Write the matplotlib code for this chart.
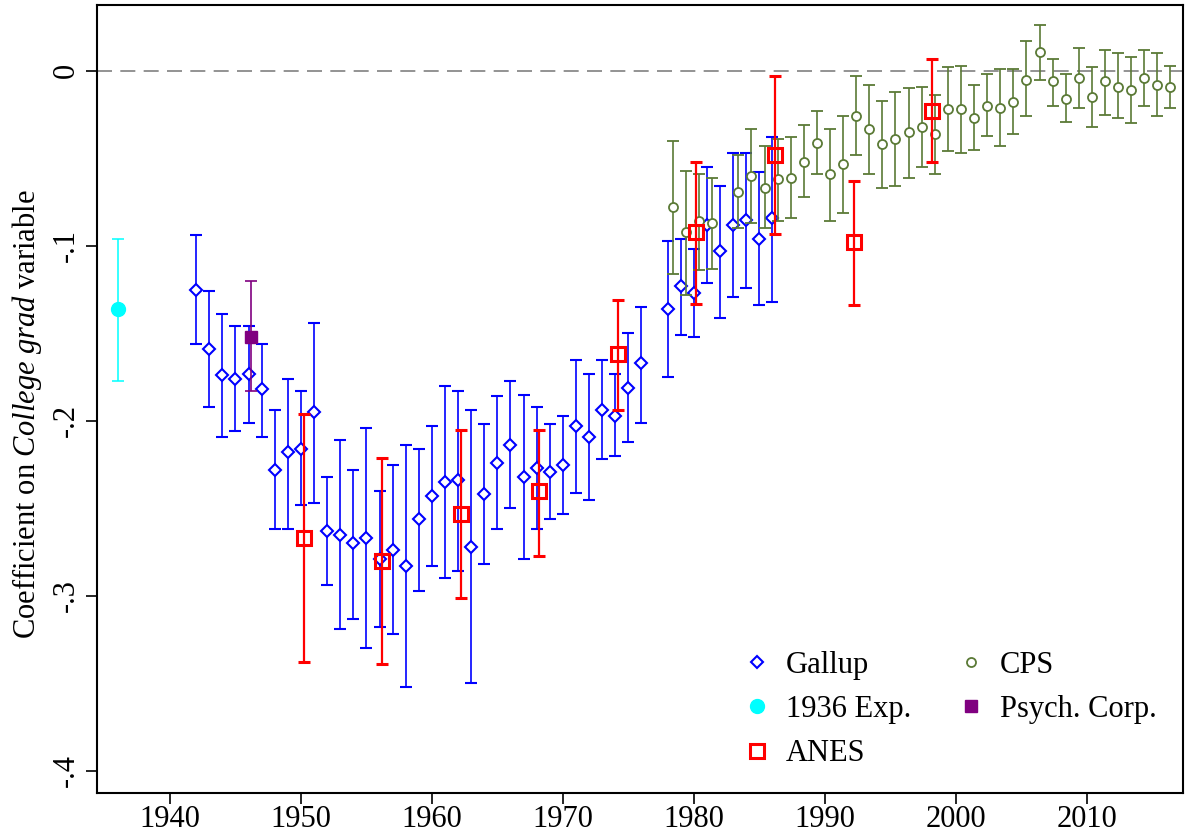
import matplotlib.pyplot as plt
from matplotlib.lines import Line2D

plt.rcParams['font.family'] = ['Liberation Serif', 'DejaVu Serif']
plt.rcParams['mathtext.fontset'] = 'custom'
plt.rcParams['mathtext.it'] = 'Liberation Serif:italic'
plt.rcParams['mathtext.rm'] = 'Liberation Serif'

# --- data ---
# Gallup
gallup_year = [1942, 1943, 1944, 1945, 1946, 1947, 1948, 1949, 1950, 1951,
               1952, 1953, 1954, 1955, 1956, 1957, 1958, 1959, 1960, 1961,
               1962, 1963, 1964, 1965, 1966, 1967, 1968, 1969, 1970, 1971,
               1972, 1973, 1974, 1975, 1976, 1978, 1979, 1980, 1981, 1982,
               1983, 1984, 1985, 1986]
gallup_coef = [-0.125, -0.159, -0.174, -0.176, -0.173, -0.182, -0.228, -0.218, -0.216, -0.195,
               -0.263, -0.265, -0.270, -0.267, -0.279, -0.274, -0.283, -0.256, -0.243, -0.235,
               -0.234, -0.272, -0.242, -0.224, -0.214, -0.232, -0.227, -0.229, -0.225, -0.203,
               -0.209, -0.194, -0.197, -0.181, -0.167, -0.136, -0.123, -0.127, -0.088, -0.103,
               -0.088, -0.085, -0.096, -0.084]
gallup_hi = [-0.094, -0.126, -0.139, -0.146, -0.146, -0.156, -0.194, -0.176, -0.183, -0.144,
             -0.232, -0.211, -0.228, -0.204, -0.240, -0.225, -0.214, -0.216, -0.203, -0.180,
             -0.183, -0.194, -0.202, -0.186, -0.177, -0.185, -0.192, -0.202, -0.197, -0.165,
             -0.173, -0.165, -0.173, -0.150, -0.135, -0.097, -0.096, -0.102, -0.055, -0.066,
             -0.047, -0.047, -0.058, -0.038]
gallup_lo = [-0.156, -0.192, -0.209, -0.206, -0.201, -0.209, -0.262, -0.262, -0.248, -0.247,
             -0.294, -0.319, -0.313, -0.330, -0.318, -0.322, -0.352, -0.297, -0.283, -0.290,
             -0.286, -0.350, -0.282, -0.262, -0.250, -0.279, -0.262, -0.256, -0.253, -0.241,
             -0.245, -0.222, -0.220, -0.212, -0.201, -0.175, -0.151, -0.152, -0.121, -0.141,
             -0.129, -0.124, -0.134, -0.132]

# ANES
anes_year = [1950.2, 1956.2, 1962.2, 1968.2, 1974.2, 1980.2, 1986.2, 1992.2, 1998.2]
anes_coef = [-0.267, -0.280, -0.253, -0.240, -0.162, -0.092, -0.048, -0.098, -0.023]
anes_hi = [-0.196, -0.221, -0.205, -0.205, -0.131, -0.052, -0.003, -0.063, 0.007]
anes_lo = [-0.338, -0.339, -0.301, -0.277, -0.194, -0.133, -0.093, -0.134, -0.052]

# CPS
cps_year = [1978.4, 1979.4, 1980.4, 1981.4, 1983.4, 1984.4, 1985.4, 1986.4, 1987.4,
            1988.4, 1989.4, 1990.4, 1991.4, 1992.4, 1993.4, 1994.4, 1995.4, 1996.4,
            1997.4, 1998.4, 1999.4, 2000.4, 2001.4, 2002.4, 2003.4, 2004.4, 2005.4,
            2006.4, 2007.4, 2008.4, 2009.4, 2010.4, 2011.4, 2012.4, 2013.4, 2014.4,
            2015.4, 2016.4]
cps_coef = [-0.078, -0.092, -0.086, -0.087, -0.069, -0.060, -0.067, -0.062, -0.061,
            -0.052, -0.041, -0.059, -0.053, -0.026, -0.033, -0.042, -0.039, -0.035,
            -0.032, -0.036, -0.022, -0.022, -0.027, -0.020, -0.021, -0.018, -0.005,
            0.011, -0.006, -0.016, -0.004, -0.015, -0.006, -0.009, -0.011, -0.004,
            -0.008, -0.009]
cps_hi = [-0.040, -0.057, -0.059, -0.061, -0.048, -0.033, -0.043, -0.039, -0.038,
          -0.031, -0.023, -0.033, -0.026, -0.003, -0.008, -0.017, -0.012, -0.010,
          -0.009, -0.014, 0.002, 0.003, -0.008, -0.002, 0.001, 0.001, 0.017,
          0.026, 0.007, -0.002, 0.013, 0.002, 0.012, 0.010, 0.008, 0.012,
          0.010, 0.003]
cps_lo = [-0.116, -0.128, -0.114, -0.113, -0.090, -0.087, -0.090, -0.086, -0.084,
          -0.072, -0.059, -0.086, -0.081, -0.048, -0.059, -0.067, -0.066, -0.061,
          -0.055, -0.059, -0.046, -0.047, -0.045, -0.037, -0.043, -0.036, -0.026,
          -0.005, -0.020, -0.029, -0.021, -0.032, -0.025, -0.027, -0.030, -0.020,
          -0.026, -0.021]

# 1936 experiment and Psych. Corp.
exp_year = [1936]
exp_coef = [-0.136]
exp_hi = [-0.096]
exp_lo = [-0.177]

psych_year = [1946.2]
psych_coef = [-0.152]
psych_hi = [-0.120]
psych_lo = [-0.183]

BLUE = '#0000ff'
CYAN = '#00ffff'
RED = '#ff0000'
GREEN = '#5b7a36'
PURPLE = '#800080'
FS = 22


def err(coef, hi, lo):
    return [[c - l for c, l in zip(coef, lo)], [h - c for c, h in zip(coef, hi)]]


fig = plt.figure(figsize=(11.85, 8.36), dpi=100)
ax = fig.add_axes([0.0819, 0.052, 0.9161, 0.942])

ax.axhline(0, color='#808080', lw=1.2, ls=(0, (9, 5)), zorder=1)

ax.errorbar(exp_year, exp_coef, yerr=err(exp_coef, exp_hi, exp_lo), fmt='o',
            color=CYAN, ms=10, capsize=4.5, elinewidth=1.1, capthick=1.1, zorder=3)
ax.errorbar(gallup_year, gallup_coef, yerr=err(gallup_coef, gallup_hi, gallup_lo),
            fmt='D', color=BLUE, mfc='white', ms=6, mew=1.5, capsize=4.5,
            elinewidth=1.2, capthick=1.2, zorder=3)
ax.errorbar(cps_year, cps_coef, yerr=err(cps_coef, cps_hi, cps_lo), fmt='o',
            color=GREEN, mfc='white', ms=6.5, mew=1.3, capsize=4.5,
            elinewidth=1.2, capthick=1.2, zorder=4)
ax.errorbar(anes_year, anes_coef, yerr=err(anes_coef, anes_hi, anes_lo), fmt='s',
            color=RED, mfc='none', ms=9.5, mew=2.2, capsize=4.5,
            elinewidth=1.6, capthick=1.6, zorder=5)
ax.errorbar(psych_year, psych_coef, yerr=err(psych_coef, psych_hi, psych_lo), fmt='s',
            color=PURPLE, ms=9, capsize=4.5, elinewidth=1.2, capthick=1.2, zorder=6)

ax.set_xlim(1934.43, 2017.33)
ax.set_ylim(-0.4123, 0.0376)

ax.set_xticks([1940, 1950, 1960, 1970, 1980, 1990, 2000, 2010])
ax.set_yticks([0, -0.1, -0.2, -0.3, -0.4])
ax.set_yticklabels(['0', '-.1', '-.2', '-.3', '-.4'], rotation=90, va='center')
ax.tick_params(axis='both', direction='out', length=8, width=1.2, labelsize=FS)
ax.tick_params(axis='x', pad=1)
ax.tick_params(axis='y', pad=4)
for s in ax.spines.values():
    s.set_linewidth(1.5)

ax.set_ylabel(r'Coefficient on $\it{College\ grad}$ variable', fontsize=FS)
ax.yaxis.set_label_coords(-0.049, 0.48)

handles = [
    Line2D([], [], ls='none', marker='D', color=BLUE, mfc='white', ms=6, mew=1.5),
    Line2D([], [], ls='none', marker='o', color=CYAN, ms=10),
    Line2D([], [], ls='none', marker='s', color=RED, mfc='none', ms=9.5, mew=2.2),
    Line2D([], [], ls='none', marker='o', color=GREEN, mfc='white', ms=6.5, mew=1.3),
    Line2D([], [], ls='none', marker='s', color=PURPLE, ms=9),
]
labels = ['Gallup', '1936 Exp.', 'ANES', 'CPS', 'Psych. Corp.']
ax.legend(handles, labels, ncol=2, loc='upper left', bbox_to_anchor=(0.594, 0.18),
          frameon=False, fontsize=FS, borderpad=0, borderaxespad=0,
          handlelength=1.0, handletextpad=0.45, columnspacing=1.45, labelspacing=0.5)

fig.savefig('out.png', dpi=100)
